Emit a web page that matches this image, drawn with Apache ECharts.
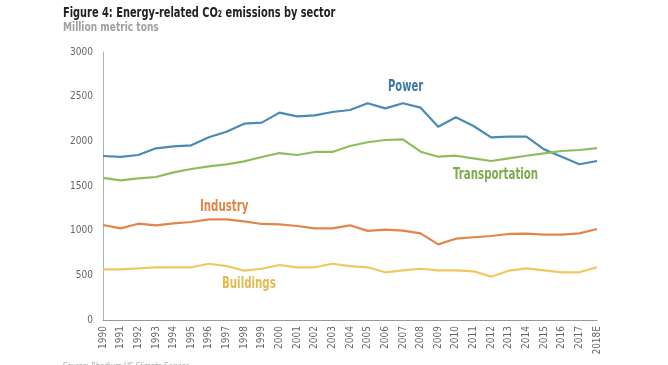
<!DOCTYPE html>
<html>
<head>
<meta charset="utf-8">
<script src="https://cdn.jsdelivr.net/npm/echarts@6/dist/echarts.min.js"></script>
<style>html,body{margin:0;padding:0;background:#fff;}#c{width:668px;height:365px;}</style>
</head>
<body>
<div id="c"></div>
<script>
const years = ['1990','1991','1992','1993','1994','1995','1996','1997','1998','1999','2000','2001','2002','2003','2004','2005','2006','2007','2008','2009','2010','2011','2012','2013','2014','2015','2016','2017','2018E'];
const power = [1836,1825,1847,1922,1944,1955,2045,2108,2198,2209,2321,2280,2291,2328,2351,2426,2369,2426,2377,2164,2269,2172,2045,2053,2053,1910,1828,1743,1780];
const transportation = [1590,1563,1586,1601,1653,1690,1720,1743,1776,1825,1869,1847,1881,1881,1948,1990,2015,2022,1884,1828,1839,1810,1780,1810,1839,1866,1892,1903,1925];
const industry = [1063,1026,1078,1060,1082,1097,1127,1127,1104,1075,1071,1052,1026,1026,1060,998,1011,1000,970,847,910,926,940,963,966,955,955,970,1019];
const buildings = [567,567,578,590,590,590,630,604,552,574,616,590,590,630,604,590,534,556,574,556,556,545,485,552,578,556,534,534,590];
const yTicks = [0,500,1000,1500,2000,2500,3000];

const FONT = "'Liberation Sans Narrow','DejaVu Sans Condensed','Roboto Condensed',Roboto,sans-serif";
const chart = echarts.init(document.getElementById('c'));
const seriesDef = [
  {name:'Power', data:power, color:'#4b8ab3'},
  {name:'Transportation', data:transportation, color:'#8fbd5c'},
  {name:'Industry', data:industry, color:'#e2854a'},
  {name:'Buildings', data:buildings, color:'#f0c860'}
];
function txt(str, x, y, font, fill, sx){
  return {type:'text', x:x, y:y, scaleX:sx, scaleY:1, originX:0, originY:0,
    style:{text:str, font:font, fill:fill, textVerticalAlign:'top'}};
}
chart.setOption({
  animation:false,
  textStyle:{fontFamily:FONT},
  grid:{left:103,right:71,top:52,bottom:45},
  xAxis:{
    type:'category', data:years, boundaryGap:false,
    axisLine:{lineStyle:{color:'#9a9a9a',width:1}},
    axisTick:{show:false},
    axisLabel:{rotate:90,fontSize:10,color:'#666',fontFamily:FONT,margin:6,interval:0}
  },
  yAxis:{
    type:'value', min:yTicks[0], max:yTicks[yTicks.length-1], interval:500,
    axisLine:{show:true,lineStyle:{color:'#b0b0b0',width:1}},
    axisTick:{show:false},
    splitLine:{show:false},
    axisLabel:{fontSize:10,color:'#666',fontFamily:FONT,margin:10,formatter:v=>String(v)}
  },
  graphic:[
    txt('Figure 4: Energy-related CO₂ emissions by sector',63,6,"bold 14px "+FONT,'#222',0.78),
    txt('Million metric tons',63,22,"bold 12px "+FONT,'#a0a0a0',0.84),
    txt('Power',388,80,"bold 15px "+FONT,'#3d7aa3',0.74),
    txt('Transportation',453,168,"bold 15px "+FONT,'#7eab4c',0.76),
    txt('Industry',200,200,"bold 15px "+FONT,'#df8445',0.76),
    txt('Buildings',222,277,"bold 15px "+FONT,'#e2ba4e',0.76),
    txt('Source: Rhodium US Climate Service',63,362,"9px "+FONT,'#aaa',0.85)
  ],
  series: seriesDef.map(s=>({
    name:s.name,type:'line',data:s.data,symbol:'none',
    lineStyle:{color:s.color,width:2.2},itemStyle:{color:s.color}
  }))
});
</script>
</body>
</html>
